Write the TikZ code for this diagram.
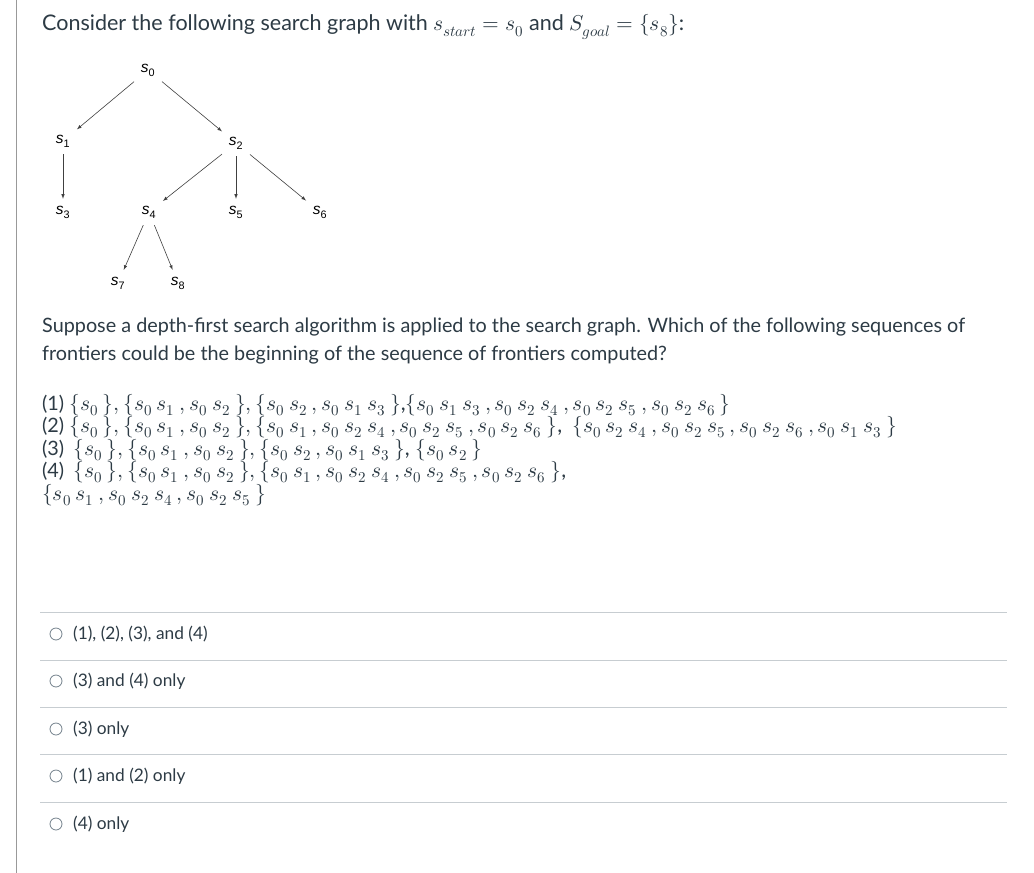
\documentclass[tikz,border=0pt]{standalone}
\usepackage{fontspec}
\usepackage{unicode-math}
\setmathfont{Latin Modern Math}
\setmainfont{Lato}
\newfontfamily\graphfont{Liberation Sans}
\definecolor{txt}{HTML}{2D3B45}
\definecolor{rule}{HTML}{C7CDD1}
\definecolor{radio}{HTML}{73818C}
\newcommand{\sq}[1]{s_{#1}\mkern4mu}
\begin{document}
\begin{tikzpicture}[x=1pt,y=-1pt,
  body/.style={anchor=west,inner sep=0pt,text=txt,font=\fontsize{19.8}{24}\selectfont},
  mline/.style={anchor=west,inner sep=0pt,text=txt,font=\fontsize{21.5}{24}\selectfont},
  gn/.style={inner sep=0pt,minimum width=26pt,minimum height=24pt,font=\graphfont\fontsize{15.5}{18}\selectfont},
  ed/.style={-latex,black!75,line width=0.6pt,shorten >=1pt,shorten <=1pt},
  opt/.style={anchor=west,inner sep=0pt,text=txt,font=\fontsize{17.3}{20}\selectfont},
  rad/.style={draw=radio,line width=0.8pt,circle,minimum size=12pt,inner sep=0pt}]
\useasboundingbox (0,0) rectangle (1034,873);
\fill[white] (0,0) rectangle (1034,873);
\draw[black!40,line width=1pt] (16,0) -- (16,873);
\node[body,font=\fontsize{21.5}{24}\selectfont] (t1) at (42,27) {Consider the following search graph with $s_{start}=s_0$ and $S_{goal}=\{s_8\}$:};
% graph
\node[gn] (s0) at (148,70) {\textit{s}\textsubscript{0}};
\node[gn] (s1) at (63,141) {\textit{s}\textsubscript{1}};
\node[gn] (s2) at (236,143) {\textit{s}\textsubscript{2}};
\node[gn] (s3) at (63,212) {\textit{s}\textsubscript{3}};
\node[gn] (s4) at (149,212) {\textit{s}\textsubscript{4}};
\node[gn] (s5) at (236,212) {\textit{s}\textsubscript{5}};
\node[gn] (s6) at (320,212) {\textit{s}\textsubscript{6}};
\node[gn] (s7) at (118,283) {\textit{s}\textsubscript{7}};
\node[gn] (s8) at (178,283) {\textit{s}\textsubscript{8}};
\draw[ed] (s0) -- (s1);
\draw[ed] (s0) -- (s2);
\draw[ed] (s1) -- (s3);
\draw[ed] (s2) -- (s4);
\draw[ed] (s2) -- (s5);
\draw[ed] (s2) -- (s6);
\draw[ed] (s4) -- (s7);
\draw[ed] (s4) -- (s8);
% question
\node[body] (q1) at (42,327) {Suppose a depth-first search algorithm is applied to the search graph. Which of the following sequences of};
\node[body] (q2) at (42,355) {frontiers could be the beginning of the sequence of frontiers computed?};
\node[mline] (l1) at (42,405) {\fontsize{19.8}{24}\selectfont(1) \fontsize{21.5}{24}\selectfont$\{\sq0\}, \{\sq0\sq1, \sq0\sq2\}, \{\sq0\sq2, \sq0\sq1\sq3\}$,$\{\sq0\sq1\sq3, \sq0\sq2\sq4, \sq0\sq2\sq5, \sq0\sq2\sq6\}$};
\node[mline] (l2) at (42,427) {\fontsize{19.8}{24}\selectfont(2) \fontsize{21.5}{24}\selectfont$\{\sq0\}, \{\sq0\sq1, \sq0\sq2\}, \{\sq0\sq1, \sq0\sq2\sq4, \sq0\sq2\sq5, \sq0\sq2\sq6\}$,\hspace{10pt}$\{\sq0\sq2\sq4, \sq0\sq2\sq5, \sq0\sq2\sq6, \sq0\sq1\sq3\}$};
\node[mline] (l3) at (42,450) {\fontsize{19.8}{24}\selectfont(3)\hspace{4pt} \fontsize{21.5}{24}\selectfont$\{\sq0\}, \{\sq0\sq1, \sq0\sq2\}, \{\sq0\sq2, \sq0\sq1\sq3\}$, $\{\sq0\sq2\}$};
\node[mline] (l4) at (42,472) {\fontsize{19.8}{24}\selectfont(4)\hspace{4pt} \fontsize{21.5}{24}\selectfont$\{\sq0\}, \{\sq0\sq1, \sq0\sq2\}, \{\sq0\sq1, \sq0\sq2\sq4, \sq0\sq2\sq5, \sq0\sq2\sq6\}$,};
\node[mline] (l5) at (42,495) {$\{\sq0\sq1, \sq0\sq2\sq4, \sq0\sq2\sq5\}$};
% options
\foreach \y in {612,660,707,754,802} \draw[rule,line width=0.8pt] (40,\y) -- (1007,\y);
\node[rad] (r1) at (56,634) {}; \node[opt] (o1) at (73,634) {(1), (2), (3), and (4)};
\node[rad] (r2) at (56,681) {}; \node[opt] (o2) at (73,681) {(3) and (4) only};
\node[rad] (r3) at (56,729) {}; \node[opt] (o3) at (73,729) {(3) only};
\node[rad] (r4) at (56,776) {}; \node[opt] (o4) at (73,776) {(1) and (2) only};
\node[rad] (r5) at (56,824) {}; \node[opt] (o5) at (73,824) {(4) only};
\end{tikzpicture}
\end{document}
